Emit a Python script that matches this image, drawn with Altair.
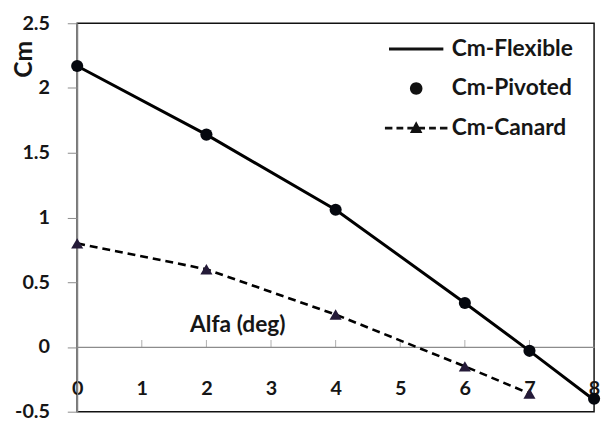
import altair as alt
import pandas as pd

# ---- data ----
alpha = [0, 2, 4, 6, 7, 8]
cm_flexible = [2.17, 1.64, 1.06, 0.34, -0.03, -0.41]
cm_pivoted = [2.17, 1.64, 1.06, 0.34, -0.03, -0.40]
alpha_canard = [0, 2, 4, 6, 7]
cm_canard = [0.80, 0.60, 0.25, -0.15, -0.36]
series_names = ["Cm-Flexible", "Cm-Pivoted", "Cm-Canard"]
x_ticks = [0, 1, 2, 3, 4, 5, 6, 7, 8]
y_ticks = [-0.5, 0, 0.5, 1, 1.5, 2, 2.5]

FONT = "Lato"
TXT = "#161616"
GRAY = "#8c8c8c"

flex_df = pd.DataFrame({"alpha": alpha, "cm": cm_flexible})
piv_df = pd.DataFrame({"alpha": alpha, "cm": cm_pivoted})
can_df = pd.DataFrame({"alpha": alpha_canard, "cm": cm_canard})
tick_df = pd.DataFrame({"alpha": x_ticks})
legend_df = pd.DataFrame({
    "series": series_names,
    "alpha": [alpha[0], alpha[0], alpha_canard[0]],
    "cm": [cm_flexible[0], cm_pivoted[0], cm_canard[0]],
})

x_scale = alt.Scale(domain=[0, 8], nice=False, zero=False)
y_scale = alt.Scale(domain=[-0.5, 2.5], nice=False, zero=False)

x_axis = alt.Axis(
    values=x_ticks, format="d", offset=-65.5, ticks=False, grid=False,
    domainColor=GRAY, domainWidth=1.2, labelFlush=False, labelPadding=42,
    labelBaseline="middle", labelFont=FONT, labelFontSize=20,
    labelFontWeight="bold", labelColor=TXT,
    title="Alfa (deg)", titleX=162, titleY=-23, titleAlign="center",
    titleBaseline="middle", titleFont=FONT, titleFontSize=23,
    titleFontWeight="bold", titleColor=TXT,
)
y_axis = alt.Axis(
    values=y_ticks, labelExpr="'' + datum.value", tickSize=10, tickColor=GRAY,
    domainColor=GRAY, domainWidth=1.2, labelPadding=18, grid=False,
    labelFont=FONT, labelFontSize=20, labelFontWeight="bold", labelColor=TXT,
    title="Cm", titleX=-54, titleY=36, titleAngle=270, titleAlign="center",
    titleBaseline="middle", titleFont=FONT, titleFontSize=25,
    titleFontWeight="bold", titleColor=TXT,
)

X = alt.X("alpha:Q", scale=x_scale, axis=x_axis)
Y = alt.Y("cm:Q", scale=y_scale, axis=y_axis)

flex_line = alt.Chart(flex_df).mark_line(color="#000000", strokeWidth=3).encode(x=X, y=Y)
piv_pts = alt.Chart(piv_df).mark_circle(color="#05080f", size=150, opacity=1).encode(x=X, y=Y)
can_line = alt.Chart(can_df).mark_line(color="#000000", strokeWidth=2.6, strokeDash=[8, 5]).encode(x=X, y=Y)
can_pts = alt.Chart(can_df).mark_point(shape="triangle-up", filled=True, color="#241a38",
                                       size=150, opacity=1).encode(x=X, y=Y)
x_tick_marks = alt.Chart(tick_df).mark_tick(color=GRAY, size=7, thickness=1, yOffset=-3.5,
                                            orient="vertical").encode(
    x=alt.X("alpha:Q", scale=x_scale), y=alt.datum(0))

# legend glyphs drawn as filled outlines (unit = sqrt(symbolSize)/2 px)
path_line = "M-2,-0.11H2V0.11H-2Z"
path_circle = "M-0.46,0A0.46,0.46,0,1,0,0.46,0A0.46,0.46,0,1,0,-0.46,0Z"
path_canard = ("M-2.3,-0.1H-1.75V0.1H-2.3Z"
               "M-1.45,-0.1H-0.95V0.1H-1.45Z"
               "M-0.65,-0.1H0.65V0.1H-0.65Z"
               "M0.95,-0.1H1.45V0.1H0.95Z"
               "M1.75,-0.1H2.3V0.1H1.75Z"
               "M0,-0.5L0.46,0.36L-0.46,0.36Z")

# legend-only layer: its rows are filtered away, the shape scale keeps all entries
legend_layer = alt.Chart(legend_df).transform_filter("false").mark_point(
    filled=True, opacity=1, color="#111111"
).encode(
    x=X, y=Y,
    shape=alt.Shape(
        "series:N",
        scale=alt.Scale(domain=series_names, range=[path_line, path_circle, path_canard]),
        legend=alt.Legend(
            title=None, orient="none", legendX=329, legendY=12, padding=0,
            symbolSize=756, symbolStrokeWidth=0,
            symbolFillColor="#111111", symbolOpacity=1,
            labelFont=FONT, labelFontSize=23, labelFontWeight="bold",
            labelColor=TXT, labelOffset=22, rowPadding=14,
        ),
    ),
)

chart = alt.layer(
    x_tick_marks, can_line, can_pts, flex_line, piv_pts, legend_layer
).properties(
    width=523, height=393,
    autosize=alt.AutoSizeParams(type="none"),
    padding={"left": 70, "top": 13, "right": 7, "bottom": 9},
).configure_view(
    stroke="#111111", strokeWidth=1.5
)

chart.save("out.html", embed_options={"renderer": "svg", "actions": False})
